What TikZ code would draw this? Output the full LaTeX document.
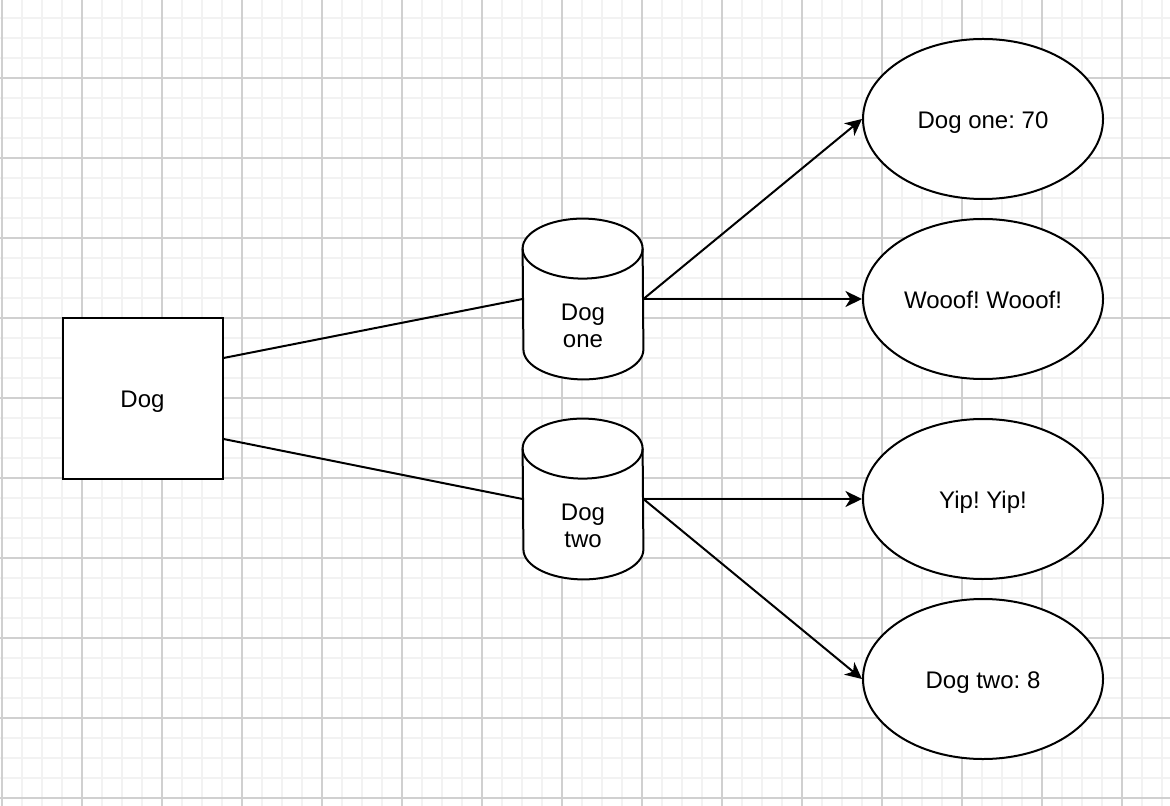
\documentclass[tikz,border=0pt]{standalone}
\usepackage{fontspec}
\setmainfont{Liberation Sans}
\usetikzlibrary{shapes.geometric,arrows.meta,calc}
\definecolor{gridminor}{HTML}{F2F2F2}
\definecolor{gridmajor}{HTML}{D0D0D0}
\frenchspacing
\begin{document}
\begin{tikzpicture}[x=0.5pt,y=-0.5pt,
  line/.style={line width=1pt, draw=black},
  arr/.style={line, -{Stealth[length=8.3pt,width=8pt,inset=2.5pt]}},
  txt/.style={font=\fontsize{12}{13.5}\selectfont, align=center, inner sep=0pt},
  one/.style={txt, text height=11pt, text depth=1.5pt},
  box/.style={draw, fill=white, line width=1pt, rectangle, minimum width=80pt, minimum height=80pt, inner sep=0pt, one},
  oval/.style={draw, fill=white, line width=1pt, ellipse, minimum width=120pt, minimum height=80pt, inner sep=0pt, one},
  cylbox/.style={rectangle, minimum width=60pt, minimum height=80pt, inner sep=0pt}
]
\useasboundingbox (0,0) rectangle (1170,806);
\fill[white] (0,0) rectangle (1170,806);
\foreach \x in {2,22,...,1162} \draw[gridminor, line width=1pt] (\x,0) -- (\x,806);
\foreach \y in {18,38,...,798} \draw[gridminor, line width=1pt] (0,\y) -- (1170,\y);
\foreach \x in {2,82,...,1122} \draw[gridmajor, line width=0.6pt] (\x,0) -- (\x,806);
\foreach \y in {78,158,...,798} \draw[gridmajor, line width=0.6pt] (0,\y) -- (1170,\y);

\node[box] (dog) at (142.5,398.5) {Dog};
\node[cylbox] (c1) at (583,299) {};
\node[cylbox] (c2) at (583,499) {};
\foreach \c in {c1,c2} {
  \draw[line, fill=white] ([yshift=-15pt]\c.north west) arc[start angle=180,end angle=0,x radius=30pt,y radius=15pt]
    -- ([yshift=15pt]\c.south east) arc[start angle=0,end angle=-180,x radius=30pt,y radius=15pt] -- cycle;
  \draw[line] ([yshift=-15pt]\c.north west) arc[start angle=180,end angle=360,x radius=30pt,y radius=15pt];
}
\node[txt] (c1t) at ([yshift=-13.5pt]c1.center) {Dog\\one};
\node[txt] (c2t) at ([yshift=-13.5pt]c2.center) {Dog\\two};

\node[oval] (e1) at (983,119) {Dog one: 70};
\node[oval] (e2) at (983,299) {Wooof! Wooof!};
\node[oval] (e3) at (983,499) {Yip! Yip!};
\node[oval] (e4) at (983,679) {Dog two: 8};

\draw[line] ($(dog.north east)!0.25!(dog.south east)$) -- (c1.west);
\draw[line] ($(dog.north east)!0.75!(dog.south east)$) -- (c2.west);
\draw[arr] (c1.east) -- (e1.west);
\draw[arr] (c1.east) -- (e2.west);
\draw[arr] (c2.east) -- (e3.west);
\draw[arr] (c2.east) -- (e4.west);
\end{tikzpicture}
\end{document}
